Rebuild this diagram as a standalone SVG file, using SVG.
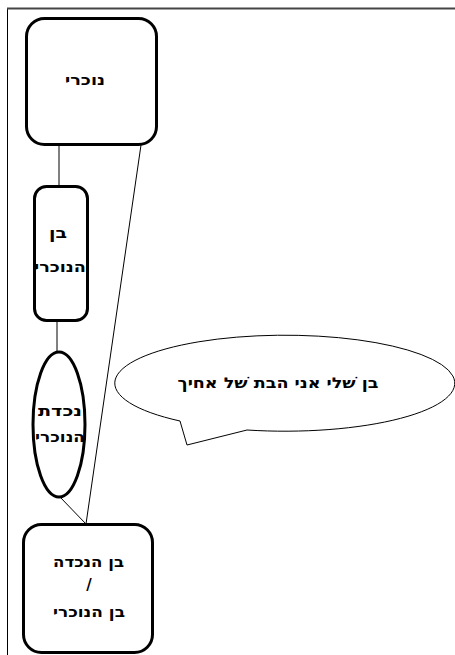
<svg xmlns="http://www.w3.org/2000/svg" width="455" height="655" viewBox="0 0 455 655">
<style>
.box{fill:#fff;stroke:#000;stroke-width:3}
.conn{fill:none;stroke:#000;stroke-width:1}
.t{font-family:"DejaVu Sans","Liberation Sans",sans-serif;font-weight:bold;font-size:15px;fill:#000;text-anchor:middle;direction:rtl}
</style>
<rect x="0" y="0" width="455" height="655" fill="#fff"/>
<line x1="7.5" y1="8" x2="7.5" y2="655" stroke="#000" stroke-width="1"/>
<line x1="7" y1="8.5" x2="455" y2="8.5" stroke="#444" stroke-width="2"/>
<g id="connectors">
<line class="conn" x1="59" y1="145" x2="59" y2="187"/>
<line class="conn" x1="141" y1="145" x2="86" y2="524"/>
<line class="conn" x1="57" y1="321" x2="57" y2="352"/>
<line class="conn" x1="60" y1="497" x2="86" y2="524"/>
</g>
<g id="n1">
<rect class="box" x="26.5" y="18.5" width="130" height="126" rx="18"/>
<text class="t" x="85" y="85" textLength="40" lengthAdjust="spacingAndGlyphs">נוכרי</text>
</g>
<g id="n2">
<rect class="box" x="34.5" y="186.5" width="53" height="134" rx="12"/>
<text class="t" x="58" y="238" textLength="18" lengthAdjust="spacingAndGlyphs">בן</text>
<text class="t" x="60" y="272" textLength="52" lengthAdjust="spacingAndGlyphs">הנוכרי</text>
</g>
<g id="n3">
<ellipse class="box" cx="59" cy="424.5" rx="26" ry="72.5"/>
<text class="t" x="60" y="416" textLength="44" lengthAdjust="spacingAndGlyphs">נכדת</text>
<text class="t" x="60" y="442" textLength="50" lengthAdjust="spacingAndGlyphs">הנוכרי</text>
</g>
<g id="n4">
<rect class="box" x="23.5" y="524.5" width="129" height="128" rx="18"/>
<text class="t" x="88.5" y="567" textLength="71" lengthAdjust="spacingAndGlyphs">בן הנכדה</text>
<text class="t" x="89" y="590">/</text>
<text class="t" x="89" y="617" textLength="72" lengthAdjust="spacingAndGlyphs">בן הנוכרי</text>
</g>
<g id="callout">
<path d="M180,421 A170,48 0 1 1 247,430 L187,445 Z" fill="#fff" stroke="#000" stroke-width="1"/>
<text class="t" x="278" y="388" font-size="16" textLength="201" lengthAdjust="spacingAndGlyphs">בן שׁלי אני הבת שׁל אחיך</text>
</g>
</svg>
